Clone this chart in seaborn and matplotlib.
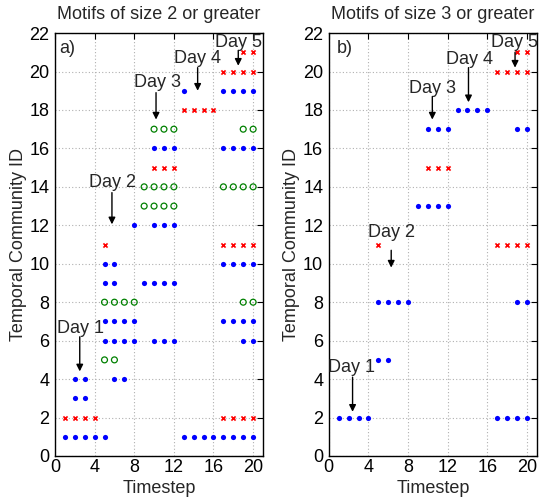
import matplotlib
matplotlib.use("Agg")
import matplotlib.pyplot as plt
import seaborn as sns
import pandas as pd

sns.set_theme(style="white")
plt.rcParams['font.family'] = ['Liberation Sans', 'DejaVu Sans']

# ---------------- data: panel a (motifs of size >= 2) ----------------
a_blue_t = [1, 2, 3, 4, 5, 13, 14, 15, 16, 17, 18, 19, 20,
            2, 3,
            2, 3, 6, 7,
            5, 6, 7, 8, 10, 11, 12, 19, 20,
            5, 6, 7, 8, 17, 18, 19, 20,
            5, 6, 9, 10, 11, 12,
            5, 6, 17, 18, 19, 20,
            8, 10, 11, 12,
            10, 11, 12, 17, 18, 19, 20,
            13, 17, 18, 19, 20]
a_blue_id = [1] * 13 + [3] * 2 + [4] * 4 + [6] * 9 + [7] * 8 + [9] * 6 + \
            [10] * 6 + [12] * 4 + [16] * 7 + [19] * 5
a_red_t = [1, 2, 3, 4, 17, 18, 19, 20,
           5, 17, 18, 19, 20,
           10, 11, 12,
           13, 14, 15, 16,
           17, 18, 19, 20,
           19, 20]
a_red_id = [2] * 8 + [11] * 5 + [15] * 3 + [18] * 4 + [20] * 4 + [21] * 2
a_green_t = [5, 6,
             5, 6, 7, 8, 19, 20,
             9, 10, 11, 12,
             9, 10, 11, 12, 17, 18, 19, 20,
             10, 11, 12, 19, 20]
a_green_id = [5] * 2 + [8] * 6 + [13] * 4 + [14] * 8 + [17] * 5

# ---------------- data: panel b (motifs of size >= 3) ----------------
b_blue_t = [1, 2, 3, 4, 17, 18, 19, 20,
            5, 6,
            5, 6, 7, 8, 19, 20,
            9, 10, 11, 12,
            10, 11, 12, 19, 20,
            13, 14, 15, 16]
b_blue_id = [2] * 8 + [5] * 2 + [8] * 6 + [13] * 4 + [17] * 5 + [18] * 4
b_red_t = [5, 17, 18, 19, 20,
           10, 11, 12,
           17, 18, 19, 20,
           19, 20]
b_red_id = [11] * 5 + [15] * 3 + [20] * 4 + [21] * 2

# annotations: label, text (x, y), arrow tail y, arrow head (x, y)
day_labels = ["Day 1", "Day 2", "Day 3", "Day 4", "Day 5"]
a_text_xy = [(2.6, 6.65), (5.85, 14.25), (10.3, 19.45), (14.4, 20.7), (18.5, 21.5)]
a_arrow = [(2.5, 6.2, 4.4), (5.75, 13.7, 12.05), (10.2, 18.9, 17.5),
           (14.4, 20.2, 19.0), (18.5, 21.1, 20.3)]
b_text_xy = [(2.3, 4.6), (6.3, 11.6), (10.45, 19.1), (14.2, 20.6), (18.7, 21.5)]
b_arrow = [(2.4, 4.1, 2.3), (6.3, 10.7, 9.8), (10.45, 18.7, 17.5),
           (14.1, 20.2, 18.4), (18.8, 21.0, 20.2)]

titles = ["Motifs of size 2 or greater", "Motifs of size 3 or greater"]
panel_tags = ["a)", "b)"]
xticks = [0, 4, 8, 12, 16, 20]
yticks = list(range(0, 23, 2))

FS = 13

fig = plt.figure(figsize=(5.39, 4.97), dpi=100)
ax_a = fig.add_axes([0.102, 0.0825, 0.386, 0.851])
ax_b = fig.add_axes([0.610, 0.0825, 0.386, 0.851])

BLUE = "#0000ff"
RED = "#ff0000"
GREEN = "#008000"


def blue(ax, t, i):
    df = pd.DataFrame({"t": t, "id": i})
    sns.scatterplot(data=df, x="t", y="id", ax=ax, marker="o", s=14,
                    color=BLUE, edgecolor=BLUE, linewidth=0, zorder=3)


def red(ax, t, i):
    df = pd.DataFrame({"t": t, "id": i})
    sns.scatterplot(data=df, x="t", y="id", ax=ax, marker="x", s=9,
                    color=RED, linewidth=1.2, zorder=3)


def green(ax, t, i):
    df = pd.DataFrame({"t": t, "id": i})
    sns.scatterplot(data=df, x="t", y="id", ax=ax, marker="o", s=18,
                    facecolor="none", edgecolor=GREEN, linewidth=0.9, zorder=3)


blue(ax_a, a_blue_t, a_blue_id)
red(ax_a, a_red_t, a_red_id)
green(ax_a, a_green_t, a_green_id)
blue(ax_b, b_blue_t, b_blue_id)
red(ax_b, b_red_t, b_red_id)

for k, (ax, texts, arrows) in enumerate([(ax_a, a_text_xy, a_arrow),
                                         (ax_b, b_text_xy, b_arrow)]):
    ax.set_xlim(0, 21)
    ax.set_ylim(0, 22)
    ax.set_xticks(xticks)
    ax.set_yticks(yticks)
    ax.grid(True, color="#b0b0b0", linestyle=(0, (1, 2)), linewidth=0.8)
    ax.set_axisbelow(True)
    ax.tick_params(direction="in", length=4, width=0.8, top=True, right=True,
                   labelsize=FS, colors="black", pad=2)
    ax.tick_params(axis="y", pad=4)
    for s in ax.spines.values():
        s.set_color("black")
        s.set_linewidth(1.0)
    ax.set_xlabel("Timestep", fontsize=FS, labelpad=3)
    ax.set_ylabel("Temporal Community ID", fontsize=FS, labelpad=2)
    ax.set_title(titles[k], fontsize=FS, pad=10)
    ax.text(0.4 if k == 0 else 0.8, 21.2, panel_tags[k], fontsize=FS,
            ha="left", va="center")
    for lab, (tx, ty), (ax_x, tail, head) in zip(day_labels, texts, arrows):
        ax.text(tx, ty, lab, fontsize=FS, ha="center", va="center", zorder=4,
                clip_on=False)
        ax.annotate("", xy=(ax_x, head), xytext=(ax_x, tail),
                    arrowprops=dict(arrowstyle="-|>", color="black", lw=1.0,
                                    mutation_scale=10, shrinkA=0, shrinkB=0),
                    zorder=4)

fig.savefig("out.png", dpi=100)
